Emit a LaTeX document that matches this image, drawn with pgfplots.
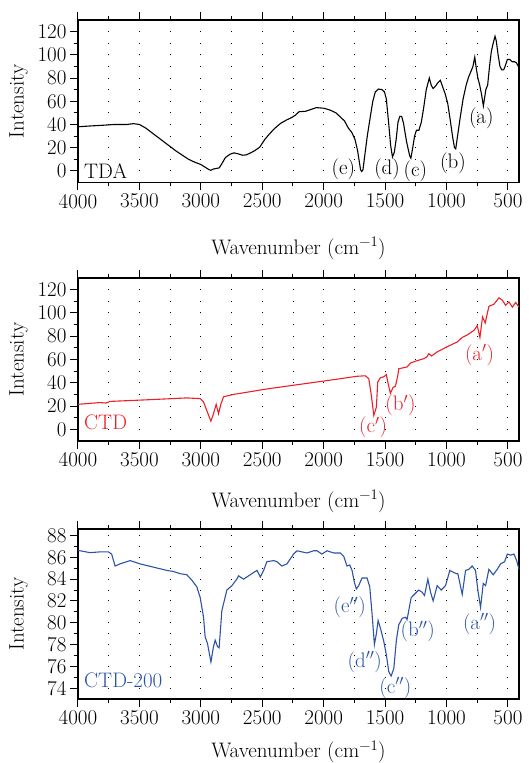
\RequirePackage{fix-cm}
\documentclass[border=0pt]{standalone}
\usepackage{fontspec}
\usepackage{pgfplots}
\pgfplotsset{compat=1.18}

\definecolor{ctdred}{RGB}{236,32,40}
\definecolor{ctdblue}{RGB}{44,84,166}

\newcommand{\figfont}{\fontsize{21}{24}\selectfont}
\tikzset{ann/.style={font=\figfont, inner sep=0pt}}

\pgfplotsset{
  panel/.style={
    scale only axis, width=441pt,
    x dir=reverse, xmin=410, xmax=4000,
    xtick={500,1000,...,4000}, minor x tick num=1,
    xtick pos=both, xticklabel pos=lower, ytick pos=left,
    tick align=outside,
    major tick length=8pt, minor tick length=4pt,
    every tick/.style={black, line width=1pt},
    axis line style={line width=1.1pt},
    xmajorgrids, xminorgrids,
    ticklabel style={font=\figfont},
    /pgf/number format/assume math mode=true,
    /pgf/number format/set thousands separator={},
    xlabel={Wavenumber (cm\textsuperscript{−1})},
    ylabel={Intensity},
    every axis y label/.append style={at={(axis description cs:-0.135,0.5)}, anchor=center, font=\figfont},
    every axis x label/.append style={font=\figfont, anchor=center},
    clip=false,
  },
}

\begin{document}
\begin{tikzpicture}
\useasboundingbox (0pt,0pt) rectangle (528pt,763pt);

% ---------- TDA ----------
\begin{axis}[panel, at={(78pt,580.5pt)}, anchor=south west, height=162.5pt,
    ymin=-10, ymax=130, ytick={0,20,...,120}, minor y tick num=1,
    grid style={black, line width=0.9pt, dash pattern=on 0.9pt off 10.707pt, dash phase=0.45pt},
    xlabel style={at={(axis description cs:0.5,-0.405)}}]
\addplot[black, line width=1.1pt] coordinates {
 (4000,38) (3900,38.7) (3800,39.3) (3700,40) (3600,40) (3550,40.7) (3500,40)
 (3450,37) (3400,33) (3350,29) (3300,25) (3250,21) (3200,17) (3150,13.5)
 (3100,10) (3050,7.5) (3000,5.5) (2970,3.5) (2940,1.5) (2920,0.5) (2900,1.5)
 (2880,2) (2850,2.6) (2830,6) (2800,11.5) (2760,14.5) (2730,15.5) (2700,14.8)
 (2660,13.5) (2630,13.8) (2600,15.2) (2560,17.5) (2520,20.5) (2480,27)
 (2440,32) (2400,36.5) (2350,41) (2300,44) (2260,46) (2230,48) (2200,51)
 (2150,51.3) (2100,53) (2060,54.5) (2000,54) (1950,52.5) (1900,50) (1860,46)
 (1830,43) (1800,37) (1770,33) (1745,27) (1725,18) (1710,8) (1700,1)
 (1690,-0.5) (1680,1) (1667,12) (1645,30) (1620,47) (1600,60) (1580,68)
 (1555,70.5) (1525,70) (1505,68) (1490,62) (1470,40) (1455,22) (1440,12)
 (1425,16) (1410,27) (1395,42) (1380,47) (1365,47) (1350,41) (1325,25)
 (1300,13) (1290,11) (1275,20) (1260,30) (1245,35) (1225,35) (1205,42)
 (1185,55) (1165,70) (1140,80) (1125,74) (1110,71) (1090,73) (1070,76)
 (1050,78) (1030,72) (1010,66) (990,58) (970,44) (950,29) (935,20) (925,19)
 (910,30) (890,45) (865,62) (840,74) (820,81) (800,86) (785,90) (770,98)
 (760,90) (745,80) (730,74) (715,66) (700,56) (690,63) (680,70) (665,74)
 (650,90) (635,103) (620,110) (605,116) (595,112) (580,100) (565,90)
 (550,87) (535,87) (520,91) (505,96) (485,96) (465,94) (445,94) (430,93)
 (415,90) (410,88)
};
\node[ann, anchor=west] at (axis cs:3951,0) {TDA};
\node[ann] at (axis cs:1840,1) {(e)};
\node[ann] at (axis cs:1484,1) {(d)};
\node[ann] at (axis cs:1253,0) {(c)};
\node[ann] at (axis cs:948,7) {(b)};
\node[ann] at (axis cs:717,45.5) {(a)};
\end{axis}

% ---------- CTD ----------
\begin{axis}[panel, at={(78pt,322pt)}, anchor=south west, height=163pt,
    ymin=-10, ymax=130, ytick={0,20,...,120}, minor y tick num=1,
    grid style={black, line width=0.9pt, dash pattern=on 0.9pt off 10.743pt, dash phase=0.45pt},
    xlabel style={at={(axis description cs:0.5,-0.37)}}]
\addplot[ctdred, line width=1.1pt] coordinates {
 (4000,21.5) (3821,23) (3770,22.6) (3739,24) (3413,25.5) (3114,27) (3005,26.4)
 (2978,23.5) (2951,16) (2918,7) (2897,13.5) (2875,21.5) (2856,13.5)
 (2837,21.5) (2815,28) (2734,30) (2462,34.7) (2190,38.7) (1918,42.7)
 (1728,45.6) (1660,46) (1633,43.5) (1614,30.7) (1592,12) (1571,19)
 (1560,40.7) (1538,44.4) (1516,45) (1505,45.6) (1490,47) (1478,40.7)
 (1457,31) (1435,36) (1416,37) (1397,46) (1389,52) (1348,53) (1321,53.6)
 (1293,57) (1239,59) (1185,60.7) (1163,62) (1144,65) (1122,63) (1076,66.5)
 (995,71) (913,75) (872,79) (832,81) (777,85) (750,89) (728,79) (707,96.6)
 (685,91.4) (655,105.7) (614,107.5) (573,113) (546,111) (519,106.6)
 (492,109.5) (464,105) (437,109) (410,105)
};
\node[ann, anchor=west, text=ctdred] at (axis cs:3951,6) {CTD};
\node[ann, text=ctdred] at (axis cs:1598,1.4) {(c$'$)};
\node[ann, text=ctdred] at (axis cs:1375,20.6) {(b$'$)};
\node[ann, text=ctdred] at (axis cs:731,63.6) {(a$'$)};
\end{axis}

% ---------- CTD-200 ----------
\begin{axis}[panel, at={(78pt,64pt)}, anchor=south west, height=170pt,
    ymin=73, ymax=88.6, ytick={74,76,...,88}, minor y tick num=1,
    grid style={black, line width=0.9pt, dash pattern=on 0.9pt off 9.997pt, dash phase=0.45pt},
    xlabel style={at={(axis description cs:0.5,-0.31)}}]
\addplot[ctdblue, line width=1.1pt] coordinates {
 (4000,86.64) (3902,86.43) (3821,86.5) (3753,86.5) (3726,86.3) (3698,85.2)
 (3658,85.4) (3603,85.6) (3576,85.7) (3495,85.4) (3386,85.1) (3277,84.8)
 (3223,84.7) (3168,84.5) (3114,84.4) (3073,83.9) (3033,83.3) (3005,82.3)
 (2978,80.5) (2965,78.7) (2946,78.1) (2918,76.4) (2897,77.8) (2883,78.4)
 (2864,77.8) (2851,77.7) (2829,81.1) (2788,83) (2747,83.4) (2707,84)
 (2693,84.3) (2652,84) (2571,84.6) (2543,84.8) (2516,84.2) (2489,84.8)
 (2462,85.6) (2408,85.7) (2380,85.6) (2340,85.2) (2299,85.4) (2245,86.3)
 (2217,86.6) (2136,86.4) (2082,86.6) (2054,86.6) (2014,86.3) (1973,86.6)
 (1918,86.4) (1864,86.4) (1837,86.1) (1810,85.2) (1788,85.3) (1769,84.8)
 (1750,83.7) (1734,83.1) (1715,83.4) (1688,84.1) (1647,84.1) (1625,83.3)
 (1606,80.8) (1587,78) (1571,79) (1557,80.2) (1538,79.5) (1511,78.3)
 (1489,77) (1470,75.5) (1451,75.1) (1429,75.8) (1408,78.4) (1389,79.8)
 (1361,80.4) (1334,80.5) (1321,80.3) (1288,82.3) (1253,82.7) (1226,83)
 (1199,82.8) (1179,82.5) (1152,84) (1130,82.8) (1109,82) (1076,83.4)
 (1043,83) (1008,83.4) (973,84.8) (940,84.6) (918,84.5) (908,84.5)
 (872,82.6) (845,84.8) (818,84.9) (791,85.2) (764,84.8) (745,83) (723,81.4)
 (701,83.6) (682,83.4) (655,84.9) (620,84.4) (587,84.9) (560,85.4)
 (527,85.6) (505,86.3) (478,86.2) (451,86.3) (429,85.7) (410,84.9)
};
\node[ann, anchor=west, text=ctdblue] at (axis cs:3951,74.7) {CTD-200};
\node[ann, text=ctdblue] at (axis cs:1788,81.4) {(e$''$)};
\node[ann, text=ctdblue] at (axis cs:1666,76.4) {(d$''$)};
\node[ann, text=ctdblue] at (axis cs:1416,74.0) {(c$''$)};
\node[ann, text=ctdblue] at (axis cs:1234,79.2) {(b$''$)};
\node[ann, text=ctdblue] at (axis cs:731,79.9) {(a$''$)};
\end{axis}
\end{tikzpicture}
\end{document}
